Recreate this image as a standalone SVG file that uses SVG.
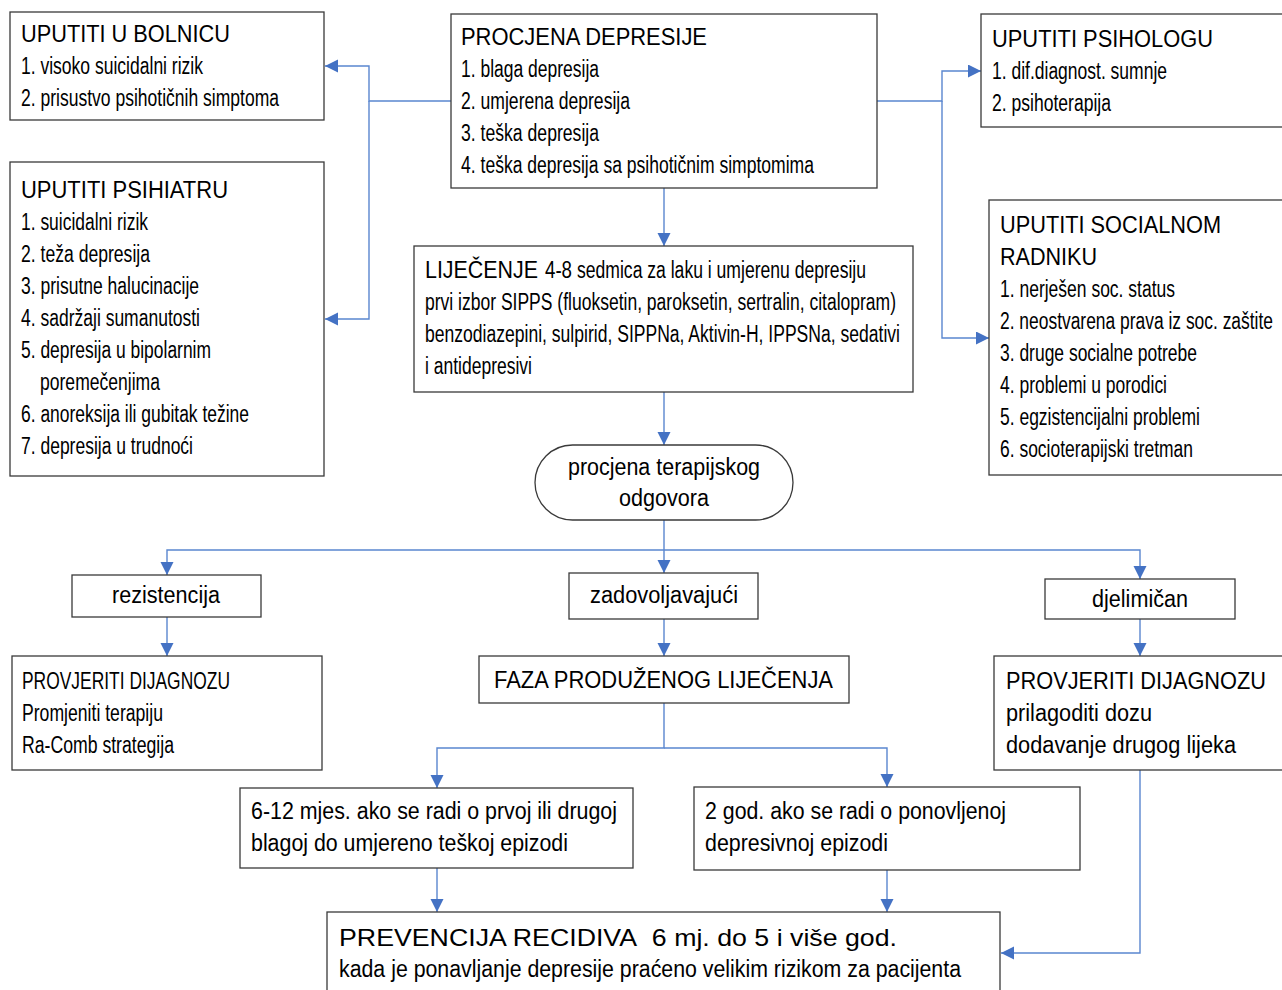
<svg xmlns="http://www.w3.org/2000/svg" width="1282" height="990" viewBox="0 0 1282 990">
<style>
.box{fill:#fff;stroke:#3a3a3a;stroke-width:1.3}
.t{font-family:"Liberation Sans",Arial,sans-serif;font-size:23px;fill:#000}
.h{font-family:"Liberation Sans",Arial,sans-serif;font-size:23px;fill:#000}
.c{text-anchor:middle}
.ln{fill:none;stroke:#5a86cf;stroke-width:1.4}
</style>
<defs>
<marker id="ah" markerUnits="userSpaceOnUse" markerWidth="14" markerHeight="14" refX="13" refY="6.5" orient="auto">
<path d="M0,0 L13,6.5 L0,13 z" fill="#4472c4"/>
</marker>
</defs>
<rect width="1282" height="990" fill="#fff"/>

<g id="connectors">
<path class="ln" d="M451,101 H369 V66 H325" marker-end="url(#ah)"/>
<path class="ln" d="M369,101 V319 H325" marker-end="url(#ah)"/>
<path class="ln" d="M877,101 H942 V71 H981" marker-end="url(#ah)"/>
<path class="ln" d="M942,101 V338 H989" marker-end="url(#ah)"/>
<path class="ln" d="M664,188 V246" marker-end="url(#ah)"/>
<path class="ln" d="M664,392 V445" marker-end="url(#ah)"/>
<path class="ln" d="M664,520 V573" marker-end="url(#ah)"/>
<path class="ln" d="M664,550 H167 V575" marker-end="url(#ah)"/>
<path class="ln" d="M664,550 H1140 V579" marker-end="url(#ah)"/>
<path class="ln" d="M167,617 V656" marker-end="url(#ah)"/>
<path class="ln" d="M664,619 V656" marker-end="url(#ah)"/>
<path class="ln" d="M1140,619 V656" marker-end="url(#ah)"/>
<path class="ln" d="M664,703 V748 H437 V788" marker-end="url(#ah)"/>
<path class="ln" d="M664,748 H887 V787" marker-end="url(#ah)"/>
<path class="ln" d="M437,868 V912" marker-end="url(#ah)"/>
<path class="ln" d="M887,870 V912" marker-end="url(#ah)"/>
<path class="ln" d="M1140,770 V953 H1001" marker-end="url(#ah)"/>
</g>

<g id="bolnica">
<rect class="box" x="10" y="12" width="314" height="108"/>
<text class="h" x="21" y="42" textLength="209" lengthAdjust="spacingAndGlyphs">UPUTITI U BOLNICU</text>
<text class="t" x="21" y="74" textLength="182" lengthAdjust="spacingAndGlyphs">1. visoko suicidalni rizik</text>
<text class="t" x="21" y="106" textLength="258" lengthAdjust="spacingAndGlyphs">2. prisustvo psihotičnih simptoma</text>
</g>

<g id="psihijatar">
<rect class="box" x="10" y="162" width="314" height="314"/>
<text class="h" x="21" y="198" textLength="207" lengthAdjust="spacingAndGlyphs">UPUTITI PSIHIATRU</text>
<text class="t" x="21" y="230" textLength="127" lengthAdjust="spacingAndGlyphs">1. suicidalni rizik</text>
<text class="t" x="21" y="262" textLength="129" lengthAdjust="spacingAndGlyphs">2. teža depresija</text>
<text class="t" x="21" y="294" textLength="178" lengthAdjust="spacingAndGlyphs">3. prisutne halucinacije</text>
<text class="t" x="21" y="326" textLength="179" lengthAdjust="spacingAndGlyphs">4. sadržaji sumanutosti</text>
<text class="t" x="21" y="358" textLength="190" lengthAdjust="spacingAndGlyphs">5. depresija u bipolarnim</text>
<text class="t" x="40" y="390" textLength="120" lengthAdjust="spacingAndGlyphs">poremečenjima</text>
<text class="t" x="21" y="422" textLength="228" lengthAdjust="spacingAndGlyphs">6. anoreksija ili gubitak težine</text>
<text class="t" x="21" y="454" textLength="172" lengthAdjust="spacingAndGlyphs">7. depresija u trudnoći</text>
</g>

<g id="procjena">
<rect class="box" x="451" y="14" width="426" height="174"/>
<text class="h" x="461" y="45" textLength="246" lengthAdjust="spacingAndGlyphs">PROCJENA DEPRESIJE</text>
<text class="t" x="461" y="77" textLength="138" lengthAdjust="spacingAndGlyphs">1. blaga depresija</text>
<text class="t" x="461" y="109" textLength="169" lengthAdjust="spacingAndGlyphs">2. umjerena depresija</text>
<text class="t" x="461" y="141" textLength="138" lengthAdjust="spacingAndGlyphs">3. teška depresija</text>
<text class="t" x="461" y="173" textLength="353" lengthAdjust="spacingAndGlyphs">4. teška depresija sa psihotičnim simptomima</text>
</g>

<g id="psiholog">
<rect class="box" x="981" y="14" width="310" height="113"/>
<text class="h" x="992" y="47" textLength="221" lengthAdjust="spacingAndGlyphs">UPUTITI PSIHOLOGU</text>
<text class="t" x="992" y="79" textLength="175" lengthAdjust="spacingAndGlyphs">1. dif.diagnost. sumnje</text>
<text class="t" x="992" y="111" textLength="119" lengthAdjust="spacingAndGlyphs">2. psihoterapija</text>
</g>

<g id="socijalni">
<rect class="box" x="989" y="200" width="302" height="275"/>
<text class="h" x="1000" y="233" textLength="221" lengthAdjust="spacingAndGlyphs">UPUTITI SOCIALNOM</text>
<text class="h" x="1000" y="265" textLength="97" lengthAdjust="spacingAndGlyphs">RADNIKU</text>
<text class="t" x="1000" y="297" textLength="175" lengthAdjust="spacingAndGlyphs">1. nerješen soc. status</text>
<text class="t" x="1000" y="329" textLength="273" lengthAdjust="spacingAndGlyphs">2. neostvarena prava iz soc. zaštite</text>
<text class="t" x="1000" y="361" textLength="197" lengthAdjust="spacingAndGlyphs">3. druge socialne potrebe</text>
<text class="t" x="1000" y="393" textLength="167" lengthAdjust="spacingAndGlyphs">4. problemi u porodici</text>
<text class="t" x="1000" y="425" textLength="200" lengthAdjust="spacingAndGlyphs">5. egzistencijalni problemi</text>
<text class="t" x="1000" y="457" textLength="193" lengthAdjust="spacingAndGlyphs">6. socioterapijski tretman</text>
</g>

<g id="lijecenje">
<rect class="box" x="414" y="246" width="499" height="146"/>
<text class="h" x="425" y="278" textLength="113" lengthAdjust="spacingAndGlyphs">LIJEČENJE</text>
<text class="t" x="545" y="278" textLength="27" lengthAdjust="spacingAndGlyphs">4-8</text>
<text class="t" x="577" y="278" textLength="289" lengthAdjust="spacingAndGlyphs">sedmica za laku i umjerenu depresiju</text>
<text class="t" x="425" y="310" textLength="471" lengthAdjust="spacingAndGlyphs">prvi izbor SIPPS (fluoksetin, paroksetin, sertralin, citalopram)</text>
<text class="t" x="425" y="342" textLength="475" lengthAdjust="spacingAndGlyphs">benzodiazepini, sulpirid, SIPPNa, Aktivin-H, IPPSNa, sedativi</text>
<text class="t" x="425" y="374" textLength="107" lengthAdjust="spacingAndGlyphs">i antidepresivi</text>
</g>

<g id="odgovor">
<rect class="box" x="535" y="445" width="258" height="75" rx="37.5" ry="37.5"/>
<text class="h c" x="664" y="475" textLength="192" lengthAdjust="spacingAndGlyphs">procjena terapijskog</text>
<text class="h c" x="664" y="506" textLength="90" lengthAdjust="spacingAndGlyphs">odgovora</text>
</g>

<g id="rezistencija">
<rect class="box" x="72" y="575" width="189" height="42"/>
<text class="h c" x="166" y="603" textLength="108" lengthAdjust="spacingAndGlyphs">rezistencija</text>
</g>

<g id="zadovoljavajuci">
<rect class="box" x="569" y="573" width="189" height="46"/>
<text class="h c" x="664" y="603" textLength="148" lengthAdjust="spacingAndGlyphs">zadovoljavajući</text>
</g>

<g id="djelimican">
<rect class="box" x="1045" y="579" width="190" height="40"/>
<text class="h c" x="1140" y="607" textLength="96" lengthAdjust="spacingAndGlyphs">djelimičan</text>
</g>

<g id="provjeriti-lijevo">
<rect class="box" x="12" y="656" width="310" height="114"/>
<text class="t" x="22" y="689" textLength="208" lengthAdjust="spacingAndGlyphs">PROVJERITI DIJAGNOZU</text>
<text class="t" x="22" y="721" textLength="141" lengthAdjust="spacingAndGlyphs">Promjeniti terapiju</text>
<text class="t" x="22" y="753" textLength="152" lengthAdjust="spacingAndGlyphs">Ra-Comb strategija</text>
</g>

<g id="faza">
<rect class="box" x="479" y="656" width="370" height="47"/>
<text class="h" x="494" y="688" textLength="339" lengthAdjust="spacingAndGlyphs">FAZA PRODUŽENOG LIJEČENJA</text>
</g>

<g id="provjeriti-desno">
<rect class="box" x="994" y="656" width="297" height="114"/>
<text class="h" x="1006" y="689" textLength="260" lengthAdjust="spacingAndGlyphs">PROVJERITI DIJAGNOZU</text>
<text class="h" x="1006" y="721" textLength="146" lengthAdjust="spacingAndGlyphs">prilagoditi dozu</text>
<text class="h" x="1006" y="753" textLength="230" lengthAdjust="spacingAndGlyphs">dodavanje drugog lijeka</text>
</g>

<g id="faza-6-12">
<rect class="box" x="240" y="788" width="393" height="80"/>
<text class="h" x="251" y="819" textLength="366" lengthAdjust="spacingAndGlyphs">6-12 mjes. ako se radi o prvoj ili drugoj</text>
<text class="h" x="251" y="851" textLength="317" lengthAdjust="spacingAndGlyphs">blagoj do umjereno teškoj epizodi</text>
</g>

<g id="faza-2god">
<rect class="box" x="694" y="787" width="386" height="83"/>
<text class="h" x="705" y="819" textLength="301" lengthAdjust="spacingAndGlyphs">2 god. ako se radi o ponovljenoj</text>
<text class="h" x="705" y="851" textLength="183" lengthAdjust="spacingAndGlyphs">depresivnoj epizodi</text>
</g>

<g id="prevencija">
<rect class="box" x="327" y="912" width="673" height="90"/>
<text class="h" x="339" y="946" textLength="558" lengthAdjust="spacingAndGlyphs" style="font-size:24px">PREVENCIJA RECIDIVA&#160; 6 mj. do 5 i više god.</text>
<text class="t" x="339" y="977" textLength="622" lengthAdjust="spacingAndGlyphs">kada je ponavljanje depresije praćeno velikim rizikom za pacijenta</text>
</g>
</svg>
